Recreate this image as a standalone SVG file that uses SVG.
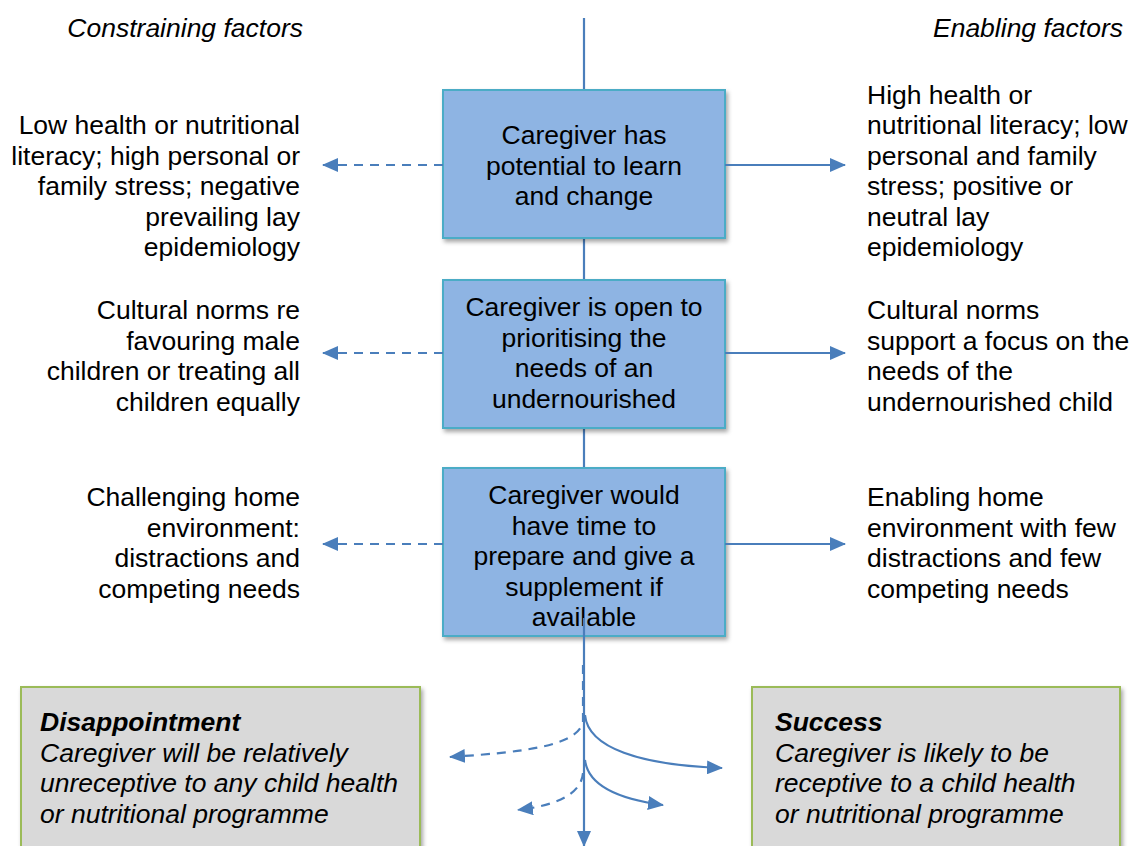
<svg xmlns="http://www.w3.org/2000/svg" width="1134" height="846" viewBox="0 0 1134 846">
<style>
text{font-family:"Liberation Sans",Arial,sans-serif;font-size:26.5px;fill:#000}
.it{font-style:italic}
.bi{font-style:italic;font-weight:bold}
.r{text-anchor:end}
.c{text-anchor:middle}
.blue{fill:#8eb4e3;stroke:#4bacc6;stroke-width:2}
.grey{fill:#d9d9d9;stroke:#9bbb59;stroke-width:2}
.ln{fill:none;stroke:#4a7ebb;stroke-width:2.2}
.dash{stroke-dasharray:9 7}
</style>
<defs>
<marker id="ah" viewBox="0 0 16 14" refX="15" refY="7" markerWidth="16" markerHeight="14" markerUnits="userSpaceOnUse" orient="auto">
<path d="M0,0 L16,7 L0,14 Z" fill="#4a7ebb"/>
</marker>
<filter id="sh" x="-5%" y="-5%" width="115%" height="120%">
<feDropShadow dx="2" dy="3" stdDeviation="2" flood-color="#000" flood-opacity="0.35"/>
</filter>
</defs>

<g id="headings">
<text class="it r" x="303" y="37">Constraining factors</text>
<text class="it r" x="1123" y="37">Enabling factors</text>
</g>

<g id="connectors-back">
<line class="ln" x1="584" y1="18" x2="584" y2="90"/>
<line class="ln" x1="584" y1="238" x2="584" y2="280"/>
<line class="ln" x1="584" y1="428" x2="584" y2="468"/>
</g>

<g id="box1">
<rect class="blue" x="443" y="90" width="282" height="148" filter="url(#sh)"/>
<text class="c" x="584" y="144">Caregiver has</text>
<text class="c" x="584" y="174.5">potential to learn</text>
<text class="c" x="584" y="205">and change</text>
</g>
<g id="box2">
<rect class="blue" x="443" y="280" width="282" height="148" filter="url(#sh)"/>
<text class="c" x="584" y="316">Caregiver is open to</text>
<text class="c" x="584" y="346.5">prioritising the</text>
<text class="c" x="584" y="377">needs of an</text>
<text class="c" x="584" y="407.5">undernourished</text>
</g>
<g id="box3">
<rect class="blue" x="443" y="468" width="282" height="168" filter="url(#sh)"/>
<text class="c" x="584" y="504">Caregiver would</text>
<text class="c" x="584" y="534.5">have time to</text>
<text class="c" x="584" y="565">prepare and give a</text>
<text class="c" x="584" y="595.5">supplement if</text>
<text class="c" x="584" y="626">available</text>
</g>

<g id="left1">
<text class="r" x="300" y="134">Low health or nutritional</text>
<text class="r" x="300" y="164.5">literacy; high personal or</text>
<text class="r" x="300" y="195">family stress; negative</text>
<text class="r" x="300" y="225.5">prevailing lay</text>
<text class="r" x="300" y="256">epidemiology</text>
</g>
<g id="right1">
<text x="867" y="104">High health or</text>
<text x="867" y="134">nutritional literacy; low</text>
<text x="867" y="164.5">personal and family</text>
<text x="867" y="195">stress; positive or</text>
<text x="867" y="225.5">neutral lay</text>
<text x="867" y="256">epidemiology</text>
</g>
<g id="left2">
<text class="r" x="300" y="319">Cultural norms re</text>
<text class="r" x="300" y="349.5">favouring male</text>
<text class="r" x="300" y="380">children or treating all</text>
<text class="r" x="300" y="410.5">children equally</text>
</g>
<g id="right2">
<text x="867" y="319">Cultural norms</text>
<text x="867" y="349.5">support a focus on the</text>
<text x="867" y="380">needs of the</text>
<text x="867" y="410.5">undernourished child</text>
</g>
<g id="left3">
<text class="r" x="300" y="506">Challenging home</text>
<text class="r" x="300" y="536.5">environment:</text>
<text class="r" x="300" y="567">distractions and</text>
<text class="r" x="300" y="597.5">competing needs</text>
</g>
<g id="right3">
<text x="867" y="506">Enabling home</text>
<text x="867" y="536.5">environment with few</text>
<text x="867" y="567">distractions and few</text>
<text x="867" y="597.5">competing needs</text>
</g>

<g id="disappointment">
<rect class="grey" x="21" y="687" width="399" height="170" filter="url(#sh)"/>
<text class="bi" x="40" y="731">Disappointment</text>
<text class="it" x="40" y="761.5">Caregiver will be relatively</text>
<text class="it" x="40" y="792">unreceptive to any child health</text>
<text class="it" x="40" y="822.5">or nutritional programme</text>
</g>
<g id="success">
<rect class="grey" x="752" y="687" width="368" height="170" filter="url(#sh)"/>
<text class="bi" x="775" y="731">Success</text>
<text class="it" x="775" y="761.5">Caregiver is likely to be</text>
<text class="it" x="775" y="792">receptive to a child health</text>
<text class="it" x="775" y="822.5">or nutritional programme</text>
</g>

<g id="connectors">
<line class="ln dash" x1="443" y1="165" x2="323" y2="165" marker-end="url(#ah)"/>
<line class="ln" x1="725" y1="165" x2="845" y2="165" marker-end="url(#ah)"/>
<line class="ln dash" x1="443" y1="353" x2="323" y2="353" marker-end="url(#ah)"/>
<line class="ln" x1="725" y1="353" x2="845" y2="353" marker-end="url(#ah)"/>
<line class="ln dash" x1="443" y1="544" x2="323" y2="544" marker-end="url(#ah)"/>
<line class="ln" x1="725" y1="544" x2="845" y2="544" marker-end="url(#ah)"/>
<line class="ln" x1="584" y1="618" x2="584" y2="846" marker-end="url(#ah)"/>
<path class="ln" d="M585,715 C588,748 640,765 722,768" marker-end="url(#ah)"/>
<path class="ln" d="M585,760 C588,786 618,799 663,805" marker-end="url(#ah)"/>
<path class="ln dash" d="M583,665 L583,722 C577,746 525,752 450,757" marker-end="url(#ah)"/>
<path class="ln dash" d="M583,773 C581,796 552,806 518,810" marker-end="url(#ah)"/>
</g>
</svg>
